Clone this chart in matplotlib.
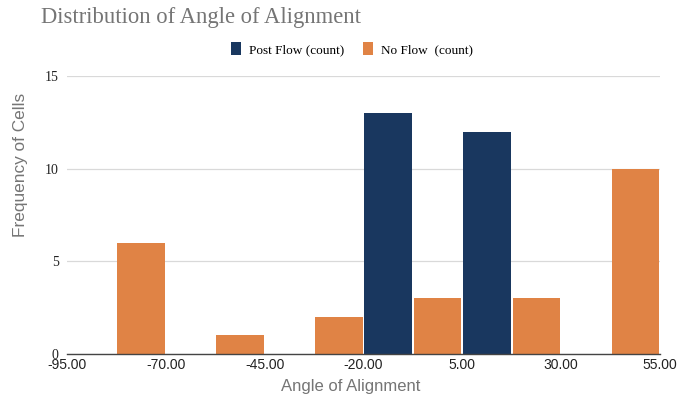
import matplotlib
matplotlib.use("Agg")
import matplotlib.pyplot as plt
from matplotlib.patches import Patch
import numpy as np

bin_edges = [-95, -70, -45, -20, 5, 30, 55]
tick_labels = ["-95.00", "-70.00", "-45.00", "-20.00", "5.00", "30.00", "55.00"]
post_flow = [0, 0, 0, 13, 12, 0]
no_flow = [6, 1, 2, 3, 3, 10]

navy = "#19375f"
orange = "#e08345"

fig = plt.figure(figsize=(6.89, 3.98), dpi=100)
ax = fig.add_axes([67/689, 1-354/398, (660-67)/689, (354-76)/398])

left = np.array(bin_edges[:-1], dtype=float)
bw = 12.0
ax.bar(left + 0.25, post_flow, width=bw, align="edge", color=navy, linewidth=0, zorder=3)
ax.bar(left + 12.75, no_flow, width=bw, align="edge", color=orange, linewidth=0, zorder=3)

ax.set_xlim(bin_edges[0], bin_edges[-1])
ax.set_ylim(0, 15)
ax.set_yticks([0, 5, 10, 15])
ax.set_yticklabels(["0", "5", "10", "15"], family="Liberation Serif", fontsize=10, color="#222222")
ax.set_xticks(bin_edges)
ax.set_xticklabels(tick_labels, family="Liberation Sans", fontsize=10, color="#222222")
ax.tick_params(axis="both", length=0, pad=3)
ax.tick_params(axis="y", pad=6)
ax.grid(axis="y", color="#d9d9d9", linewidth=0.9, zorder=0)
for s in ["top", "right", "left"]:
    ax.spines[s].set_visible(False)
ax.spines["bottom"].set_color("#444444")
ax.spines["bottom"].set_linewidth(1.0)
ax.spines["bottom"].set_zorder(4)

ax.set_ylabel("Frequency of Cells", family="Liberation Sans", fontsize=12.4, color="#757575")
ax.yaxis.set_label_coords(-(67-21)/593, (354-165)/278)
ax.set_xlabel("Angle of Alignment", family="Liberation Sans", fontsize=12, color="#757575")
ax.xaxis.set_label_coords((351-67)/593, -(386-354)/278)
ax.xaxis.label.set_va("center")
ax.yaxis.label.set_va("center")

fig.text(41/689, 1-17/398, "Distribution of Angle of Alignment", family="Liberation Serif",
         fontsize=16.3, color="#757575", ha="left", va="center")

handles = [Patch(facecolor=navy, edgecolor="none"), Patch(facecolor=orange, edgecolor="none")]
leg = fig.legend(handles, ["Post Flow (count)", "No Flow  (count)"], loc="center",
                 bbox_to_anchor=(352/689, 1-49/398), ncol=2, frameon=False,
                 prop={"family": "Liberation Serif", "size": 9.5},
                 handlelength=0.8, handleheight=1.1, handletextpad=0.6, columnspacing=1.4)

fig.savefig("out.png", dpi=100)
